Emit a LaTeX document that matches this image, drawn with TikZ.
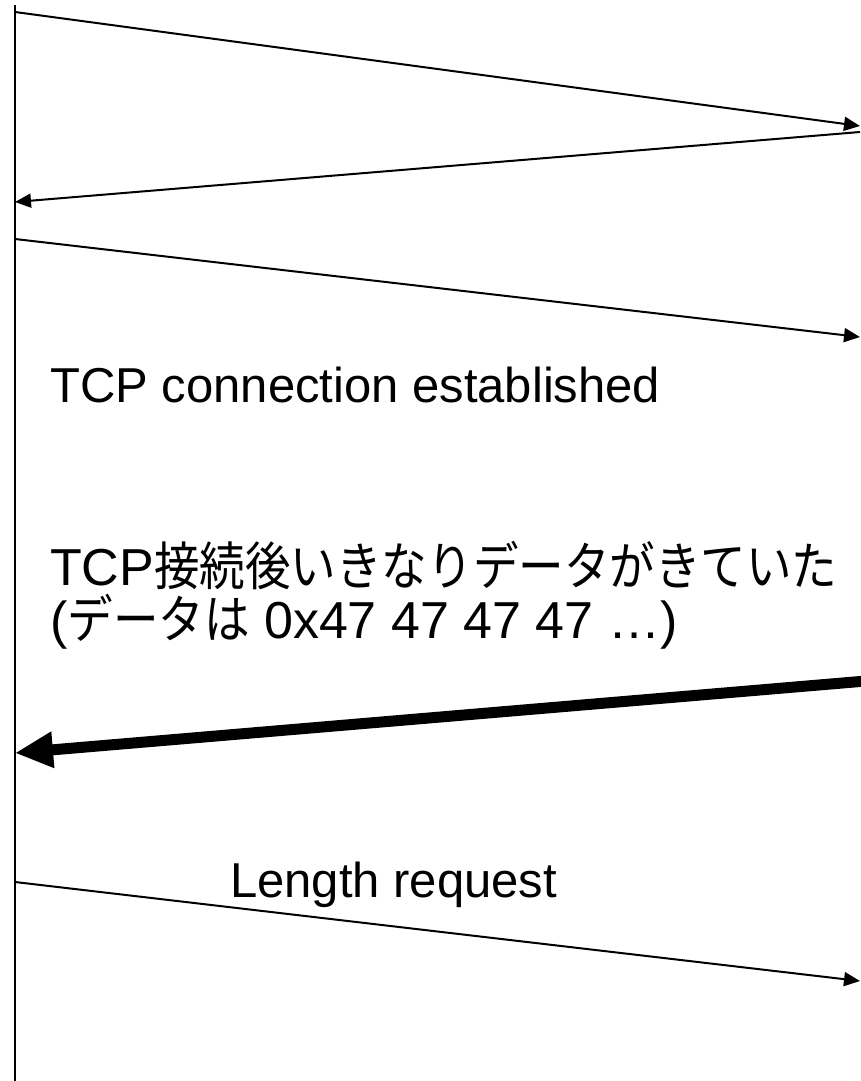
\documentclass[tikz,border=0pt]{standalone}
\usepackage{fontspec}
\setmainfont{Liberation Sans}
\newfontfamily\cjk[FakeStretch=0.876]{Noto Sans CJK JP}
\usetikzlibrary{arrows.meta}
\tikzset{
  msg/.style={line width=2pt, -{Triangle[length=16pt,width=14pt]}},
  bigmsg/.style={line width=11pt, -{Triangle[length=38pt,width=34pt]}},
  lbl/.style={anchor=base west, inner sep=0pt, font=\fontsize{49}{56}\selectfont},
  jlbl/.style={anchor=base west, inner sep=0pt, font=\fontsize{52}{60}\selectfont},
}
\begin{document}
\begin{tikzpicture}[x=1pt,y=-1pt]
\useasboundingbox (0,0) rectangle (860,1081);
% lifeline
\coordinate (top) at (15,5);
\coordinate (bot) at (15,1081);
\draw[line width=2.5pt] (top) -- (bot);
% message endpoints
\coordinate (a1s) at (15,12);
\coordinate (a1e) at (860,126);
\coordinate (a2s) at (860,132);
\coordinate (a2e) at (15,202);
\coordinate (a3s) at (15,239);
\coordinate (a3e) at (860,337);
\coordinate (a4s) at (866,681);
\coordinate (a4e) at (15,753);
\coordinate (a5s) at (15,882);
\coordinate (a5e) at (860,981);
\draw[msg] (a1s) -- (a1e);
\draw[msg] (a2s) -- (a2e);
\draw[msg] (a3s) -- (a3e);
\draw[bigmsg] (a4s) -- (a4e);
\draw[msg] (a5s) -- (a5e);
% labels
\node[lbl] (est) at (50,402) {TCP connection established};
\node[jlbl] (jp1) at (50,585) {TCP{\cjk 接続後いきなりデータがきていた}};
\node[jlbl] (jp2) at (50,638) {({\cjk データは} 0x47 47 47 47 …)};
\node[lbl] (len) at (230,897) {Length request};
\end{tikzpicture}
\end{document}
